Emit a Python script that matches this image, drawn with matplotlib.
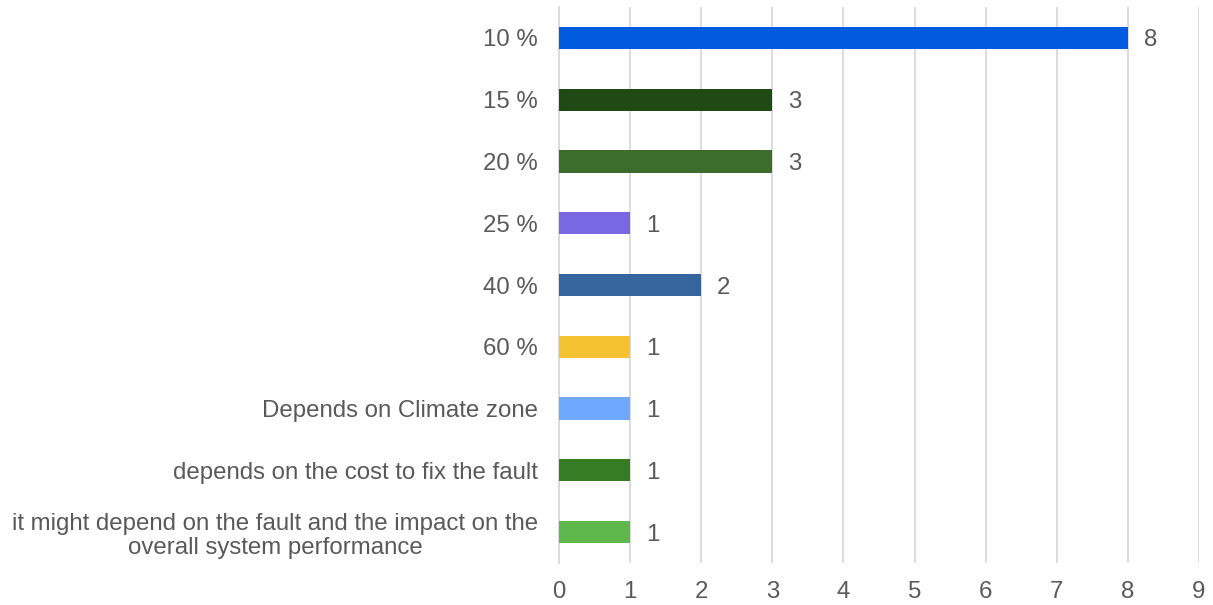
import matplotlib.pyplot as plt

plt.rcParams['font.family'] = ['Liberation Sans', 'DejaVu Sans']

categories = ['10 %', '15 %', '20 %', '25 %', '40 %', '60 %',
              'Depends on Climate zone',
              'depends on the cost to fix the fault',
              'it might depend on the fault and the impact on the\noverall system performance']
counts = [8, 3, 3, 1, 2, 1, 1, 1, 1]
colors = ['#005bdf', '#1f4a14', '#3b6e2c', '#7869e3', '#36659e',
          '#f5c332', '#6fa8ff', '#367c24', '#5fb84b']
xticks = list(range(0, 10))

text_color = '#595959'
grid_color = '#d9d9d9'
fs = 17.3

fig = plt.figure(figsize=(12.13, 6.05), dpi=100)
ax = fig.add_axes([0.4608, 0.0694, 0.5277, 0.919])

pos = list(range(len(categories)))
ax.barh(pos, counts, height=0.36, color=colors, zorder=3)
for p, v in zip(pos, counts):
    ax.text(v + 0.22, p, str(v), va='center_baseline', ha='left',
            fontsize=fs, color=text_color)

ax.set_ylim(len(categories) - 0.5, -0.5)
ax.set_yticks(pos)
ax.set_yticklabels(categories, fontsize=fs, color=text_color,
                   multialignment='center', linespacing=1.12)
ax.set_xlim(0, 9)
ax.set_xticks(xticks)
ax.set_xticklabels([str(t) for t in xticks], fontsize=fs, color=text_color)

ax.tick_params(axis='y', length=0, pad=15)
ax.tick_params(axis='x', length=0, pad=13)
ax.grid(axis='x', color=grid_color, linewidth=1.3, zorder=0)
for s in ['top', 'right', 'bottom']:
    ax.spines[s].set_visible(False)
ax.spines['left'].set_color(grid_color)
ax.spines['left'].set_linewidth(1.3)

plt.savefig('out.png', dpi=100)
